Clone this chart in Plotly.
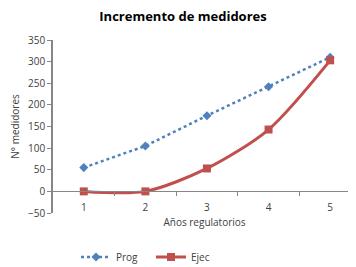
import plotly.graph_objects as go

years = [1, 2, 3, 4, 5]
prog = [55, 105, 175, 242, 310]
ejec = [0, 0, 53, 143, 303]
yticks = [-50, 0, 50, 100, 150, 200, 250, 300, 350]

# the page body has an 8px default margin, so the figure is shifted by 8px
OFF = 8
W, H = 356 - OFF, 267 - OFF
L, R, T, B = 53 - OFF, 0, 40 - OFF, 54

fig = go.Figure()
fig.add_trace(go.Scatter(
    x=years, y=prog, name="Prog", mode="lines+markers",
    line=dict(color="#4F81BD", width=2.5, dash="dot"),
    marker=dict(symbol="diamond", size=7, color="#4F81BD"),
))
fig.add_trace(go.Scatter(
    x=years, y=ejec, name="Ejec", mode="lines+markers",
    line=dict(color="#C0504D", width=3, shape="spline", smoothing=0.8),
    marker=dict(symbol="square", size=8, color="#C0504D"),
))

fig.update_layout(
    width=W, height=H,
    margin=dict(l=L, r=R, t=T, b=B, autoexpand=False),
    paper_bgcolor="white", plot_bgcolor="white",
    font=dict(family="Open Sans, Liberation Sans, sans-serif", size=10, color="#404040"),
    title=dict(text="<b>Incremento de medidores</b>", x=(183 - OFF) / W, xanchor="center",
               y=1 - 4 / H, yanchor="top", pad=dict(t=0, b=0),
               font=dict(size=13, color="#000000")),
    showlegend=True,
    legend=dict(orientation="h", x=(151 - OFF) / W, xanchor="center", xref="container",
                y=1 - (257 - OFF) / H, yanchor="middle", yref="container",
                entrywidth=30, entrywidthmode="pixels",
                font=dict(size=10, color="#404040")),
    xaxis=dict(
        range=[0.5, 5.42], tickvals=years, ticktext=[str(v) for v in years],
        anchor="free", position=0.125, showline=True, linecolor="#868686", linewidth=1,
        ticks="outside", ticklen=7, tickcolor="rgba(0,0,0,0)", showgrid=False, zeroline=False,
        minor=dict(tickvals=[1.5, 2.5, 3.5, 4.5], ticks="outside", ticklen=4,
                   tickcolor="#868686", showgrid=False),
        title=dict(text="Años regulatorios", font=dict(size=10), standoff=5),
        tickfont=dict(size=10), automargin=False,
    ),
    yaxis=dict(
        range=[-50, 350], tickvals=yticks, showline=True, linecolor="#868686", linewidth=1.5,
        ticks="outside", ticklen=4, tickcolor="#868686", showgrid=False, zeroline=False,
        title=dict(text="N° medidores", font=dict(size=10), standoff=7),
        tickfont=dict(size=10), automargin=False,
    ),
)
fig.write_html("out.html")
